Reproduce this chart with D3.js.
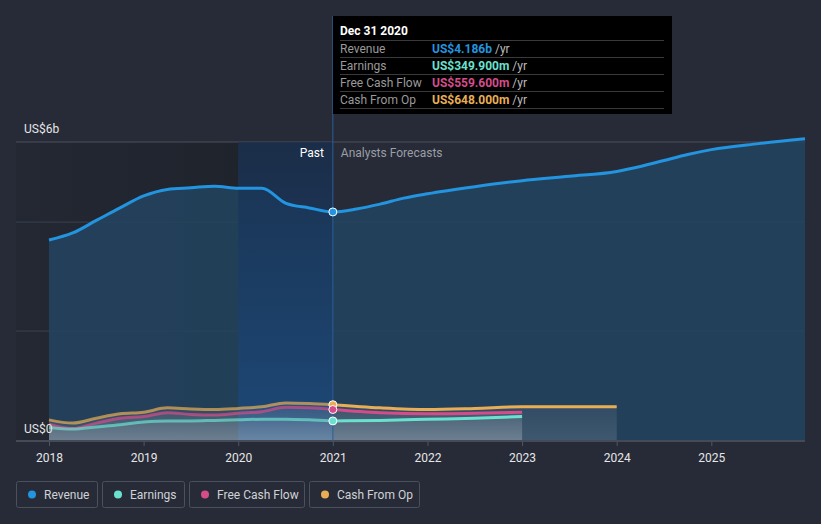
<!DOCTYPE html>
<html><head><meta charset="utf-8">
<script src="https://cdn.jsdelivr.net/npm/d3@7"></script>
<style>
body{margin:0;background:#262b37;font-family:Roboto,"Noto Sans",sans-serif;}
svg{display:block}
</style></head><body>
<svg id="c" width="821" height="524"></svg>
<script>
const revenueT=[2018.0,2018.25,2018.5,2018.75,2019.0,2019.25,2019.5,2019.75,2020.0,2020.25,2020.5,2020.75,2021.0,2021.25,2021.5,2021.75,2022.0,2022.5,2023.0,2023.5,2024.0,2024.25,2024.5,2024.75,2025.0,2025.5,2025.99];
const revenueV=[3.67,3.80,4.03,4.26,4.48,4.60,4.63,4.66,4.62,4.62,4.35,4.26,4.186,4.24,4.33,4.44,4.52,4.65,4.76,4.84,4.93,5.02,5.13,5.24,5.33,5.44,5.53];
const earnT=[2018.0,2018.25,2018.5,2018.75,2019.0,2019.25,2019.5,2019.75,2020.0,2020.25,2020.5,2020.75,2021.0,2021.5,2022.0,2022.5,2023.0];
const earnV=[0.23,0.20,0.24,0.28,0.33,0.35,0.35,0.36,0.37,0.38,0.38,0.37,0.35,0.36,0.38,0.40,0.43];
const fcfT=[2018.0,2018.25,2018.5,2018.75,2019.0,2019.25,2019.5,2019.75,2020.0,2020.25,2020.5,2020.75,2021.0,2021.5,2022.0,2022.5,2023.0];
const fcfV=[0.29,0.21,0.31,0.40,0.43,0.50,0.47,0.46,0.49,0.52,0.60,0.59,0.5596,0.50,0.48,0.49,0.51];
const cfoT=[2018.0,2018.25,2018.5,2018.75,2019.0,2019.25,2019.5,2019.75,2020.0,2020.25,2020.5,2020.75,2021.0,2021.5,2022.0,2022.5,2023.0,2023.5,2024.0];
const cfoV=[0.37,0.31,0.40,0.48,0.51,0.59,0.57,0.56,0.58,0.61,0.68,0.67,0.648,0.59,0.56,0.58,0.61,0.61,0.61];
const yearTicks=[2018,2019,2020,2021,2022,2023,2024,2025];
const yTicks=[2,4];
const legendNames=["Revenue","Earnings","Free Cash Flow","Cash From Op"];
const tipTitle="Dec 31 2020";
const tipLabels=["Revenue","Earnings","Free Cash Flow","Cash From Op"];
const tipValues=["US$4.186b","US$349.900m","US$559.600m","US$648.000m"];
const colors=["#2394df","#6ce0cf","#d44d8a","#e9ae55"];

const svg=d3.select("#c");
const x=d3.scaleLinear().domain([2018,2025.99]).range([49,805]);
const y=d3.scaleLinear().domain([0,5.47]).range([440,142]);
const defs=svg.append("defs");
const g1=defs.append("linearGradient").attr("id","past").attr("x1",0).attr("y1",0).attr("x2",1).attr("y2",0);
g1.append("stop").attr("offset","0").attr("stop-color","#1b1e25").attr("stop-opacity",0.25);
g1.append("stop").attr("offset","1").attr("stop-color","#1b1e25").attr("stop-opacity",0.6);
const g2=defs.append("linearGradient").attr("id","hl").attr("x1",0).attr("y1",0).attr("x2",0).attr("y2",1);
g2.append("stop").attr("offset","0").attr("stop-color","#172e4e");
g2.append("stop").attr("offset","1").attr("stop-color","#1b4b80");
const g3=defs.append("linearGradient").attr("id","gfill").attr("x1",0).attr("y1",0).attr("x2",0).attr("y2",1);
g3.append("stop").attr("offset","0").attr("stop-color","#ffffff").attr("stop-opacity",0.12);
g3.append("stop").attr("offset","1").attr("stop-color","#ffffff").attr("stop-opacity",0.28);

svg.append("rect").attr("x",16).attr("y",y(5.47)).attr("width",x(2020)-16).attr("height",y(0)-y(5.47)).attr("fill","url(#past)");
svg.append("line").attr("x1",16).attr("x2",805).attr("y1",y(5.47)).attr("y2",y(5.47)).attr("stroke","#4a505c").attr("stroke-width",1);
yTicks.forEach(t=>svg.append("line").attr("x1",16).attr("x2",805).attr("y1",y(t)).attr("y2",y(t)).attr("stroke","#3a4250").attr("stroke-width",1));

const rev=revenueT.map((t,i)=>[t,revenueV[i]]);
svg.append("path").datum(rev).attr("fill","#234460").attr("fill-opacity",0.85)
 .attr("d",d3.area().x(d=>x(d[0])).y0(y(0)).y1(d=>y(d[1])).curve(d3.curveMonotoneX));
svg.append("rect").attr("x",x(2020)).attr("y",y(5.47)).attr("width",x(2021)-x(2020)).attr("height",y(0)-y(5.47)).attr("fill","url(#hl)").attr("opacity",0.75);

const series=[[earnT,earnV],[fcfT,fcfV],[cfoT,cfoV]];
[2,1,0].forEach(k=>{
  const d=series[k][0].map((t,i)=>[t,series[k][1][i]]);
  svg.append("path").datum(d).attr("fill","url(#gfill)").attr("fill-opacity",0.45)
   .attr("d",d3.area().x(p=>x(p[0])).y0(y(0)).y1(p=>y(p[1])).curve(d3.curveMonotoneX));
});
svg.append("path").datum(rev).attr("fill","none").attr("stroke",colors[0]).attr("stroke-width",3)
 .attr("d",d3.line().x(d=>x(d[0])).y(d=>y(d[1])).curve(d3.curveMonotoneX));
[2,1,0].forEach(k=>{
  const d=series[k][0].map((t,i)=>[t,series[k][1][i]]);
  const past=d.filter(p=>p[0]<=2021), fut=d.filter(p=>p[0]>=2021);
  const ln=d3.line().x(p=>x(p[0])).y(p=>y(p[1])).curve(d3.curveMonotoneX);
  svg.append("path").datum(past).attr("fill","none").attr("stroke",colors[k+1]).attr("stroke-width",3).attr("stroke-opacity",0.7).attr("d",ln);
  svg.append("path").datum(fut).attr("fill","none").attr("stroke",colors[k+1]).attr("stroke-width",3).attr("d",ln);
});

svg.append("line").attr("x1",16).attr("x2",805).attr("y1",441).attr("y2",441).attr("stroke","#4f5662").attr("stroke-width",1.5);
const ax=svg.append("g").attr("transform","translate(0,441)").call(d3.axisBottom(x).tickValues(yearTicks).tickFormat(d3.format("d")).tickSize(5).tickPadding(7));
ax.select(".domain").remove();
ax.selectAll("line").attr("stroke","#4f5662");
ax.selectAll("text").attr("fill","#e6e6e6").attr("font-size",12).attr("font-family","Roboto");

svg.append("text").attr("x",24).attr("y",133).attr("fill","#e6e6e6").attr("font-size",12).text("US$6b");
svg.append("text").attr("x",24).attr("y",433).attr("fill","#e6e6e6").attr("font-size",12).text("US$0");
svg.append("text").attr("x",x(2021)-9).attr("y",157).attr("fill","#ffffff").attr("font-size",12).attr("text-anchor","end").text("Past");
svg.append("text").attr("x",x(2021)+8).attr("y",157).attr("fill","#9a9ea6").attr("font-size",12).text("Analysts Forecasts");

svg.append("line").attr("x1",x(2021)).attr("x2",x(2021)).attr("y1",16).attr("y2",441).attr("stroke","#2a5d9a").attr("stroke-width",1);

const mk=[[revenueV[12],colors[0]],[cfoV[12],colors[3]],[fcfV[12],colors[2]],[earnV[12],colors[1]]];
mk.forEach(m=>svg.append("circle").attr("cx",x(2021)).attr("cy",y(m[0])).attr("r",4).attr("fill",m[1]).attr("stroke","#ffffff").attr("stroke-width",1));

const tip=svg.append("g");
tip.append("rect").attr("x",333).attr("y",16).attr("width",339).attr("height",98).attr("fill","#000");
tip.append("text").attr("x",340).attr("y",35).attr("fill","#fff").attr("font-size",12).attr("font-weight","bold").text(tipTitle);
tipLabels.forEach((l,i)=>{
  const yy=40+i*17;
  tip.append("line").attr("x1",340).attr("x2",664).attr("y1",yy+0.5).attr("y2",yy+0.5).attr("stroke","#3a3a3a");
  tip.append("text").attr("x",340).attr("y",yy+12.5).attr("fill","#9a9a9a").attr("font-size",12).text(l);
  const t=tip.append("text").attr("x",432).attr("y",yy+12.5).attr("font-size",12);
  t.append("tspan").attr("fill",colors[i]).attr("font-weight","bold").text(tipValues[i]);
  t.append("tspan").attr("fill","#bbbbbb").text(" /yr");
});
tip.append("line").attr("x1",340).attr("x2",664).attr("y1",108.5).attr("y2",108.5).attr("stroke","#3a3a3a");

const lg=svg.append("g");
let lx=16;
legendNames.forEach((n,i)=>{
  const w=[81,82,115,110][i];
  const gg=lg.append("g").attr("transform",`translate(${lx},481)`);
  gg.append("rect").attr("x",0.5).attr("y",0.5).attr("width",w).attr("height",26).attr("rx",2).attr("fill","none").attr("stroke","#4b515c");
  gg.append("circle").attr("cx",16).attr("cy",13.5).attr("r",4).attr("fill",colors[i]);
  gg.append("text").attr("x",28).attr("y",18).attr("fill","#d0d2d6").attr("font-size",12).text(n);
  lx+=w+5;
});
</script></body></html>
